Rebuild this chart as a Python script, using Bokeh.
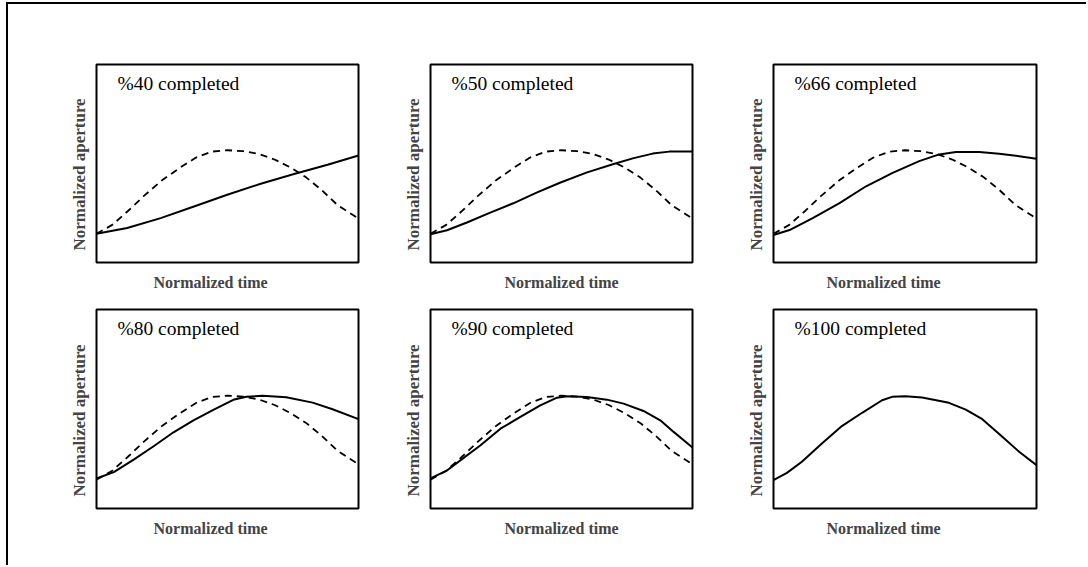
from bokeh.plotting import figure
from bokeh.layouts import column, row
from bokeh.models import Title, Label, Range1d, Spacer
from bokeh.embed import file_html
from bokeh.resources import INLINE

# ---------------- data (normalized time / normalized aperture) ----------------
panel_titles = ["%40 completed", "%50 completed", "%66 completed",
                "%80 completed", "%90 completed", "%100 completed"]
x_label = "Normalized time"
y_label = "Normalized aperture"

# dashed reference profile (final aperture profile)
ref_x = [0.0, 0.06, 0.12, 0.18, 0.25, 0.32, 0.38, 0.44, 0.50, 0.56, 0.62, 0.68, 0.74, 0.80, 0.86, 0.92, 1.0]
ref_y = [0.145, 0.19, 0.26, 0.335, 0.415, 0.48, 0.53, 0.56, 0.567, 0.562, 0.548, 0.52, 0.48, 0.43, 0.365, 0.29, 0.222]

p40_x = [0.0, 0.117, 0.245, 0.372, 0.499, 0.627, 0.754, 0.882, 1.0]
p40_y = [0.145, 0.174, 0.224, 0.283, 0.342, 0.398, 0.447, 0.494, 0.540]

p50_x = [0.0, 0.063, 0.139, 0.228, 0.316, 0.405, 0.494, 0.595, 0.696, 0.772, 0.848, 0.911, 1.0]
p50_y = [0.143, 0.163, 0.202, 0.252, 0.299, 0.353, 0.403, 0.454, 0.496, 0.526, 0.550, 0.560, 0.560]

p66_x = [0.0, 0.061, 0.149, 0.251, 0.352, 0.453, 0.554, 0.630, 0.694, 0.782, 0.858, 0.934, 1.0]
p66_y = [0.139, 0.164, 0.224, 0.300, 0.385, 0.453, 0.512, 0.546, 0.558, 0.558, 0.549, 0.537, 0.524]

p80_x = [0.0, 0.066, 0.142, 0.218, 0.294, 0.370, 0.446, 0.522, 0.572, 0.635, 0.724, 0.825, 0.901, 1.0]
p80_y = [0.151, 0.183, 0.246, 0.313, 0.383, 0.443, 0.496, 0.546, 0.562, 0.566, 0.559, 0.532, 0.499, 0.449]

p90_x = [0.0, 0.064, 0.114, 0.191, 0.267, 0.343, 0.419, 0.483, 0.521, 0.597, 0.673, 0.737, 0.813, 0.877, 0.928, 1.0]
p90_y = [0.151, 0.192, 0.242, 0.318, 0.401, 0.460, 0.518, 0.557, 0.564, 0.560, 0.547, 0.527, 0.490, 0.443, 0.385, 0.306]

p100_x = [0.0, 0.051, 0.108, 0.184, 0.260, 0.337, 0.413, 0.451, 0.502, 0.565, 0.667, 0.731, 0.794, 0.870, 0.934, 1.0]
p100_y = [0.142, 0.179, 0.235, 0.327, 0.414, 0.481, 0.544, 0.561, 0.564, 0.558, 0.531, 0.497, 0.449, 0.360, 0.285, 0.218]

solid_x = [p40_x, p50_x, p66_x, p80_x, p90_x, p100_x]
solid_y = [p40_y, p50_y, p66_y, p80_y, p90_y, p100_y]
show_ref = [True, True, True, True, True, False]

# ---------------- layout geometry ----------------
FONT = "Liberation Serif"
col_geom = [  # (min_border_left, frame_w, min_border_right, xlabel_align, xlabel_offset)
    (88, 262, 30, "left", 57),
    (42, 262, 39, "center", 0),
    (42, 263, 50, "left", 53),
]
row_geom = [  # (min_border_top, frame_h, min_border_bottom)
    (60, 198, 40),
    (7, 199, 55),
]
NOSCROLL = {"overflow": "hidden"}


def make_panel(i):
    r, c = divmod(i, 3)
    bl, fw, br, xal, xoff = col_geom[c]
    bt, fh, bb = row_geom[r]
    p = figure(width=bl + fw + br, height=bt + fh + bb,
               x_range=Range1d(0, 1), y_range=Range1d(0, 1),
               x_axis_type=None, y_axis_type=None,
               toolbar_location=None, output_backend="svg",
               min_border_left=bl, min_border_right=br,
               min_border_top=bt, min_border_bottom=bb,
               outline_line_color="black", outline_line_width=2,
               background_fill_color="white", border_fill_color="white",
               styles=NOSCROLL)
    p.grid.visible = False
    if show_ref[i]:
        p.line(ref_x, ref_y, line_color="black", line_width=1.8, line_dash="7 5")
    p.line(solid_x[i], solid_y[i], line_color="black", line_width=2)
    p.add_layout(Label(x=0.08, y=1 - 19 / fh, text=panel_titles[i],
                       text_font=FONT, text_font_size="19.5px",
                       text_color="black", text_baseline="alphabetic"))
    p.add_layout(Title(text=x_label, align=xal, offset=xoff,
                       text_font=FONT, text_font_size="16px",
                       text_font_style="bold", standoff=18), "below")
    p.add_layout(Title(text=y_label, align="left", offset=12,
                       text_font=FONT, text_font_size="17px",
                       text_font_style="bold", standoff=15), "left")
    return p


panels = [make_panel(i) for i in range(6)]
grid = column(row(*panels[:3], spacing=0, styles=NOSCROLL),
              row(*panels[3:], spacing=0, styles=NOSCROLL),
              spacing=0, styles=NOSCROLL)
grid_w = sum(g[0] + g[1] + g[2] for g in col_geom)
grid_h = sum(g[0] + g[1] + g[2] for g in row_geom)

top_rule = Spacer(width=grid_w + 2, height=2, styles={"background-color": "black"})
left_rule = Spacer(width=2, height=grid_h + 2, styles={"background-color": "black"})
layout = column(top_rule, row(left_rule, grid, spacing=0, styles=NOSCROLL), spacing=0,
                styles={"margin-left": "6px", "margin-top": "2px", "overflow": "hidden"})

open("out.html", "w").write(file_html(layout, INLINE))
